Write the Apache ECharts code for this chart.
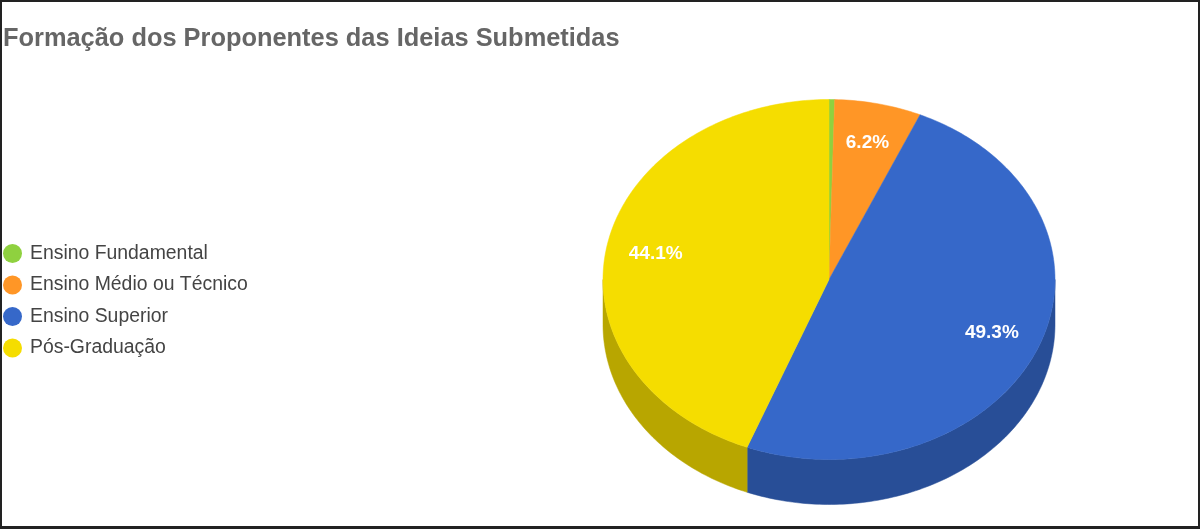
<!DOCTYPE html>
<html>
<head>
<meta charset="utf-8">
<style>html,body{margin:0;padding:0;background:#fff}#c{width:1200px;height:529px}</style>
<script src="https://cdn.jsdelivr.net/npm/echarts@6/dist/echarts.min.js"></script>
</head>
<body>
<div id="c"></div>
<script>
var categories = ['Ensino Fundamental', 'Ensino Médio ou Técnico', 'Ensino Superior', 'Pós-Graduação'];
var values = [0.4, 6.2, 49.3, 44.1];
var topColors = ['#8fd13f', '#ff9626', '#3668c9', '#f5dd00'];
var sideColors = ['#6b9c2f', '#bf701c', '#284e97', '#b8a600'];

var CX = 829, CY = 279.5, RX = 226, RY = 180, DEPTH = 45, MIN_LABEL = 5, LABEL_R = 0.78;
var total = values.reduce(function (a, b) { return a + b; }, 0);

function pt(deg, dy) {
  var r = deg * Math.PI / 180;
  return [CX + RX * Math.sin(r), CY - RY * Math.cos(r) + (dy || 0)];
}
function arc(a, b, dy) {
  var pts = [], n = Math.max(2, Math.ceil(Math.abs(b - a)));
  for (var i = 0; i <= n; i++) pts.push(pt(a + (b - a) * i / n, dy));
  return pts;
}

var series = categories.map(function (name, idx) {
  var before = values.slice(0, idx).reduce(function (a, b) { return a + b; }, 0);
  var a0 = before / total * 360, a1 = (before + values[idx]) / total * 360;
  return {
    type: 'custom',
    name: name,
    coordinateSystem: 'none',
    silent: true,
    itemStyle: { color: topColors[idx] },
    data: [values[idx]],
    renderItem: function () {
      var children = [];
      var s = Math.max(a0, 90), e = Math.min(a1, 270);
      if (e > s) {
        children.push({
          type: 'polygon',
          shape: { points: arc(s, e, 0).concat(arc(e, s, DEPTH)) },
          style: { fill: sideColors[idx], stroke: sideColors[idx], lineWidth: 0.5 }
        });
      }
      children.push({
        type: 'polygon',
        shape: { points: [[CX, CY]].concat(arc(a0, a1, 0)) },
        style: { fill: topColors[idx], stroke: topColors[idx], lineWidth: 0.5 }
      });
      if (values[idx] >= MIN_LABEL) {
        var m = (a0 + a1) / 2 * Math.PI / 180;
        children.push({
          type: 'text',
          style: {
            x: CX + RX * LABEL_R * Math.sin(m),
            y: CY - RY * LABEL_R * Math.cos(m),
            text: values[idx].toFixed(1) + '%',
            fill: '#fff',
            font: 'bold 19px "Liberation Sans", Arial, sans-serif',
            align: 'center',
            verticalAlign: 'middle'
          }
        });
      }
      return { type: 'group', children: children };
    }
  };
});

var chart = echarts.init(document.getElementById('c'), null, { renderer: 'canvas' });
chart.setOption({
  animation: false,
  backgroundColor: '#fff',
  title: {
    text: 'Formação dos Proponentes das Ideias Submetidas',
    left: 3, top: 26, padding: 0,
    textStyle: { color: '#666', fontSize: 25.4, fontWeight: 'bold', fontFamily: '"Liberation Sans", Arial, sans-serif' }
  },
  legend: {
    orient: 'vertical',
    left: 3, top: 244, padding: 0,
    icon: 'circle',
    itemWidth: 19, itemHeight: 19, itemGap: 12.5,
    selectedMode: false,
    data: categories,
    textStyle: { color: '#444', fontSize: 19.4, padding: [2, 0, 0, 3], fontFamily: '"Liberation Sans", Arial, sans-serif' }
  },
  graphic: [{
    type: 'rect', silent: true, z: 100,
    shape: { x: 1, y: 1, width: 1198, height: 526 },
    style: { fill: 'none', stroke: '#222', lineWidth: 2 }
  }, {
    type: 'rect', silent: true, z: 100,
    shape: { x: 0, y: 526, width: 1200, height: 3 },
    style: { fill: '#222' }
  }],
  series: series
});
</script>
</body>
</html>
